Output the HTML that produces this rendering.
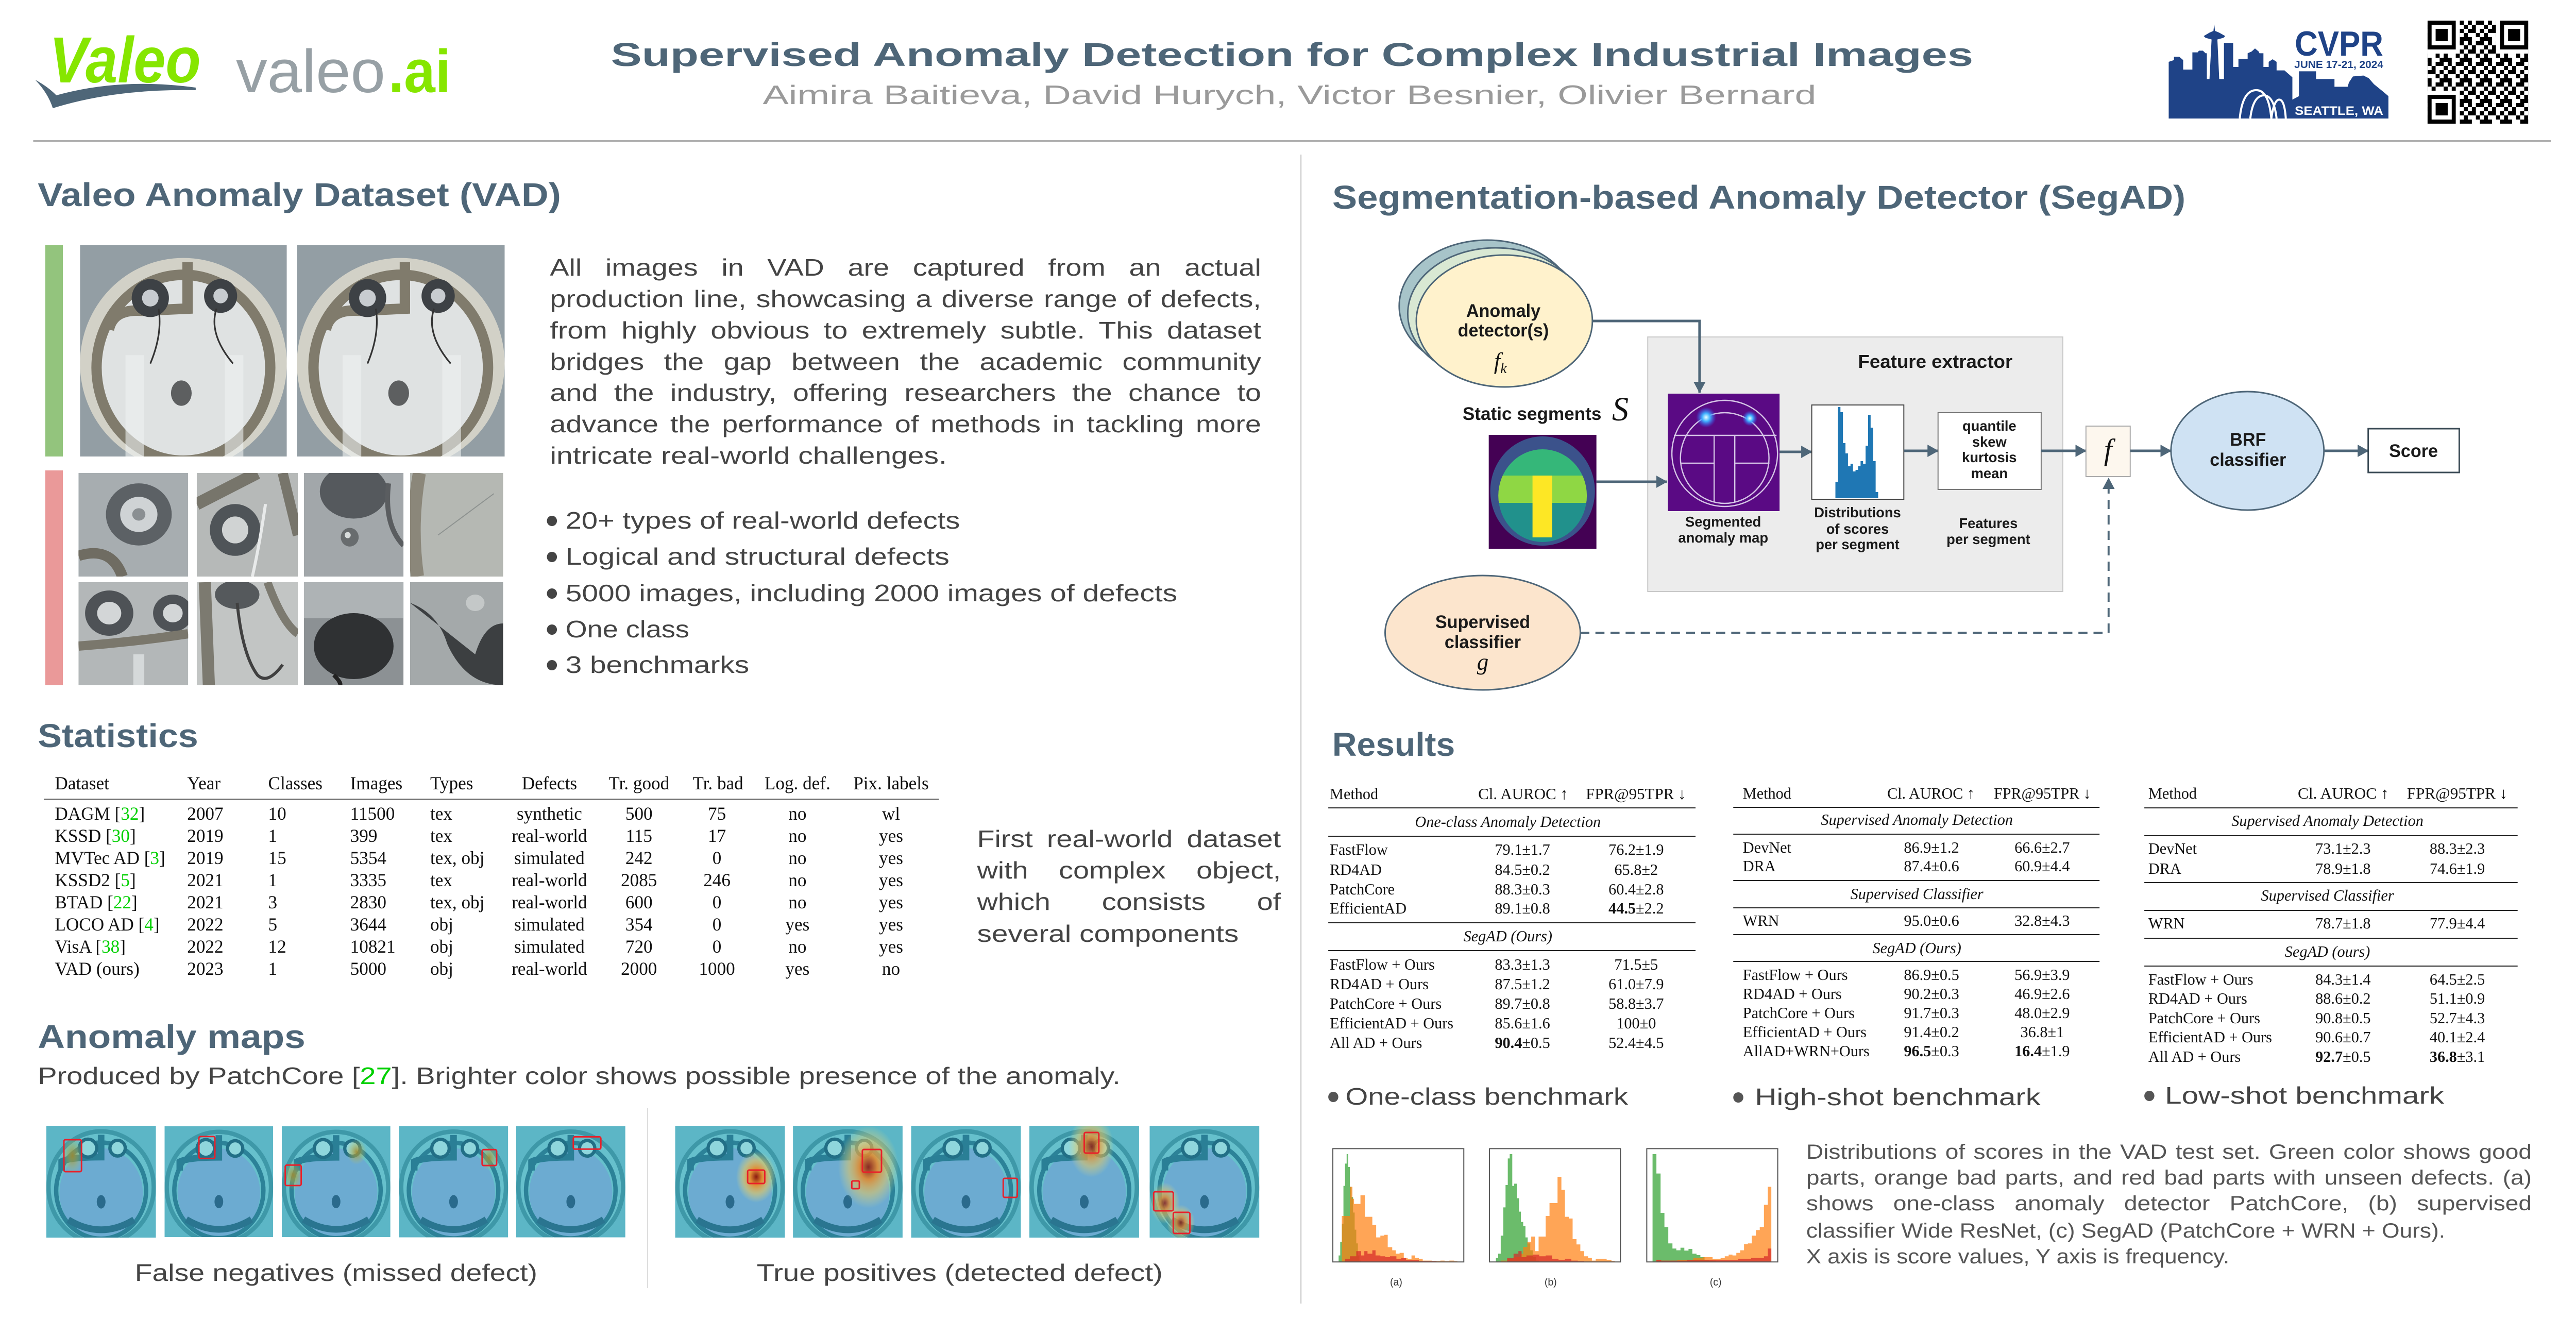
<!DOCTYPE html>
<html><head><meta charset="utf-8">
<style>
html,body{margin:0;padding:0;background:#fff;width:100%;height:100%;overflow:hidden;}
svg.main{display:block;width:100vw;height:100vh;}
.h{font-family:"Liberation Sans",sans-serif;font-weight:bold;fill:#4e6678;font-size:64px;}
.b{font-family:"Liberation Sans",sans-serif;fill:#444;font-size:46px;}
.s{font-family:"Liberation Serif",serif;fill:#111;font-size:36px;}
.t{font-family:"Liberation Serif",serif;fill:#111;font-size:31px;}
.ti{font-family:"Liberation Serif",serif;fill:#111;font-size:31px;font-style:italic;}
.d{font-family:"Liberation Sans",sans-serif;font-weight:bold;fill:#1a1a1a;}
.g{fill:#00d000;}
.j{font-family:"Liberation Sans",sans-serif;font-size:46px;line-height:46px;color:#444;text-align:justify;text-align-last:justify;margin:0;padding:0;overflow:hidden;height:56px;}
.j2{font-family:"Liberation Sans",sans-serif;font-size:40px;line-height:40px;color:#555;text-align:justify;text-align-last:justify;margin:0;padding:0;overflow:hidden;height:50px;}
</style></head>
<body>
<svg class="main" viewBox="0 0 5120 2560" preserveAspectRatio="none" xmlns="http://www.w3.org/2000/svg">
<defs>
 <marker id="ah" markerWidth="22" markerHeight="24" viewBox="0 0 22 24" refX="21" refY="12" orient="auto" markerUnits="userSpaceOnUse"><path d="M0,0 L22,12 L0,24 Z" fill="#4e6678"/></marker>
 <symbol id="part" viewBox="0 0 100 100" preserveAspectRatio="none">
  <rect width="100" height="100" fill="#939ea4"/>
  <ellipse cx="50" cy="56" rx="50" ry="50" fill="#d2d1c7"/>
  <ellipse cx="50" cy="58" rx="42" ry="44" fill="#dfe2e2" stroke="#807b6c" stroke-width="5"/>
  <path d="M14,40 Q16,30 30,31 L52,30 L52,8" stroke="#807b6c" stroke-width="5" fill="none"/>
  <circle cx="34" cy="25" r="9" fill="#3d4145"/><circle cx="34" cy="25" r="4" fill="#c8ccd0"/>
  <circle cx="68" cy="24" r="8" fill="#3d4145"/><circle cx="68" cy="24" r="3.5" fill="#c8ccd0"/>
  <ellipse cx="49" cy="70" rx="5" ry="6" fill="#5d5f60"/>
  <rect x="22" y="52" width="9" height="48" fill="#eef1f2" opacity=".6"/>
  <rect x="70" y="52" width="9" height="48" fill="#eef1f2" opacity=".6"/>
  <path d="M38,30 Q40,42 34,56" stroke="#333" stroke-width=".8" fill="none"/>
  <path d="M66,30 Q62,42 74,56" stroke="#333" stroke-width=".8" fill="none"/>
 </symbol>
 <symbol id="am" viewBox="0 0 100 100" preserveAspectRatio="none">
  <rect width="100" height="100" fill="#5cb6c6"/>
  <ellipse cx="50" cy="55" rx="48" ry="50" fill="#66c0cc" stroke="#3e98a8" stroke-width="4"/>
  <ellipse cx="50" cy="60" rx="38" ry="40" fill="#7393d8" opacity=".45"/>
  <ellipse cx="50" cy="58" rx="41" ry="43" fill="none" stroke="#2c8298" stroke-width="4"/>
  <path d="M14,40 L14,32 Q22,28 50,28 L50,8" stroke="#2a7f96" stroke-width="6" fill="none"/>
  <circle cx="38" cy="20" r="8" fill="#8fd6dc" stroke="#226f86" stroke-width="3"/>
  <circle cx="65" cy="20" r="7" fill="#8fd6dc" stroke="#226f86" stroke-width="3"/>
  <ellipse cx="50" cy="68" rx="4" ry="6" fill="#2a6a8c"/>
  <path d="M20,84 Q50,102 80,84" stroke="#2a7590" stroke-width="6" fill="none"/>
 </symbol>
 <radialGradient id="gy"><stop offset="0" stop-color="#a08a30" stop-opacity=".9"/><stop offset="1" stop-color="#c8c850" stop-opacity="0"/></radialGradient>
 <radialGradient id="go"><stop offset="0" stop-color="#8a1a10"/><stop offset=".3" stop-color="#e08a30"/><stop offset=".65" stop-color="#e8c860" stop-opacity=".6"/><stop offset="1" stop-color="#e8e080" stop-opacity="0"/></radialGradient>
 <radialGradient id="blob"><stop offset="0" stop-color="#e8ffff"/><stop offset=".4" stop-color="#40b0ff"/><stop offset="1" stop-color="#3060ff" stop-opacity="0"/></radialGradient>
 <clipPath id="inner"><ellipse cx="3066" cy="962" rx="88" ry="90"/></clipPath>
 <pattern id="qrp" x="4825" y="40" width="40" height="40" patternUnits="userSpaceOnUse">
  <rect x="0" y="0" width="8" height="8"/><rect x="16" y="0" width="16" height="8"/>
  <rect x="8" y="8" width="8" height="8"/><rect x="32" y="8" width="8" height="8"/>
  <rect x="0" y="16" width="16" height="8"/><rect x="24" y="16" width="8" height="8"/>
  <rect x="16" y="24" width="8" height="8"/><rect x="32" y="24" width="8" height="8"/>
  <rect x="0" y="32" width="8" height="8"/><rect x="24" y="32" width="16" height="8"/>
 </pattern>
</defs>

<!-- HEADER -->
<text x="98" y="160" font-family="Liberation Sans" font-weight="bold" font-style="italic" font-size="126" fill="#86e600" textLength="301" lengthAdjust="spacingAndGlyphs">Valeo</text>
<path d="M70,155 Q95,168 112,185 Q240,150 389,170 L389,175 Q230,172 105,210 Q95,180 70,155 Z" fill="#4e6678"/>
<text x="469" y="179" font-family="Liberation Sans" font-size="118" fill="#97a0a5" textLength="297" lengthAdjust="spacingAndGlyphs">valeo</text>
<text x="772" y="179" font-family="Liberation Sans" font-weight="bold" font-size="118" fill="#86e600" textLength="124" lengthAdjust="spacingAndGlyphs">.ai</text>

<text x="1214" y="128" class="h" font-size="84" textLength="2708" lengthAdjust="spacingAndGlyphs">Supervised Anomaly Detection for Complex Industrial Images</text>
<text x="1516" y="202" font-family="Liberation Sans" font-size="52" fill="#9a9a9a" textLength="2094" lengthAdjust="spacingAndGlyphs">Aimira Baitieva, David Hurych, Victor Besnier, Olivier Bernard</text>

<!-- CVPR logo -->
<g transform="translate(4300,20) scale(0.523,0.3333)">
 <path d="M20,630 L20,300 L40,290 L40,270 L60,270 L75,290 L75,345 L110,345 L110,245 L130,245 L135,235 L150,235 L160,250 L165,250 L165,400 L175,400 L183,170 L160,160 L153,150 L175,130 L190,120 L193,80 L196,120 L212,130 L235,150 L228,160 L205,170 L212,400 L230,400 L230,190 L265,190 L265,330 L285,330 L285,283 L320,283 L320,250 L335,240 L348,222 L362,240 L365,250 L380,250 L380,330 L400,330 L400,300 L415,285 L430,300 L430,350 L460,350 L490,390 L490,520 L515,500 L515,355 L580,355 L580,400 L650,400 L650,445 L700,445 L705,420 L720,385 L760,380 L780,395 L800,430 L840,480 L855,500 L855,630 Z" fill="#1f4387"/>
 <path d="M290,630 Q300,470 350,465 Q400,460 410,630 M330,630 Q340,500 380,495 Q420,495 430,630 M410,630 Q420,520 440,520 Q460,520 465,630" stroke="#fff" stroke-width="4" fill="none" vector-effect="non-scaling-stroke"/>
</g>
<text x="4561" y="108" font-family="Liberation Sans" font-weight="bold" font-size="68" fill="#1f4387" textLength="176" lengthAdjust="spacingAndGlyphs">CVPR</text>
<text x="4560" y="132" font-family="Liberation Sans" font-weight="bold" font-size="20" fill="#1f4387" textLength="177" lengthAdjust="spacingAndGlyphs">JUNE 17-21, 2024</text>
<text x="4561" y="223" font-family="Liberation Sans" font-weight="bold" font-size="24" fill="#fff" textLength="176" lengthAdjust="spacingAndGlyphs">SEATTLE, WA</text>

<!-- QR -->
<rect x="4825" y="40" width="200" height="200" fill="url(#qrp)"/>
<g>
 <rect x="4825" y="40" width="64" height="64" fill="#fff"/><rect x="4961" y="40" width="64" height="64" fill="#fff"/><rect x="4825" y="176" width="64" height="64" fill="#fff"/>
 <rect x="4825" y="40" width="56" height="56"/><rect x="4833" y="48" width="40" height="40" fill="#fff"/><rect x="4841" y="56" width="24" height="24"/>
 <rect x="4969" y="40" width="56" height="56"/><rect x="4977" y="48" width="40" height="40" fill="#fff"/><rect x="4985" y="56" width="24" height="24"/>
 <rect x="4825" y="184" width="56" height="56"/><rect x="4833" y="192" width="40" height="40" fill="#fff"/><rect x="4841" y="200" width="24" height="24"/>
</g>

<rect x="66" y="272" width="5004" height="4" fill="#b0b0b0"/>
<rect x="2584" y="300" width="3" height="2230" fill="#d4d4d4"/>

<!-- LEFT: VAD -->
<text x="75" y="400" class="h" textLength="1040" lengthAdjust="spacingAndGlyphs">Valeo Anomaly Dataset (VAD)</text>
<rect x="90" y="476" width="35" height="410" fill="#93c47d"/>
<rect x="90" y="913" width="35" height="417" fill="#ea9999"/>
<use href="#part" x="159" y="476" width="411" height="410"/>
<use href="#part" x="590" y="476" width="413" height="410"/>

<svg x="156" y="918" width="218" height="201" viewBox="0 0 100 100" preserveAspectRatio="none"><rect width="100" height="100" fill="#a7adb0"/><circle cx="55" cy="40" r="30" fill="#5c6165"/><circle cx="55" cy="40" r="17" fill="#cfd3d5"/><circle cx="55" cy="40" r="6" fill="#8a8f92"/><path d="M0,80 Q30,70 40,100" stroke="#6f6c62" stroke-width="10" fill="none"/></svg>
<svg x="391" y="918" width="201" height="201" viewBox="0 0 100 100" preserveAspectRatio="none"><rect width="100" height="100" fill="#b6b9b8"/><path d="M0,30 Q40,10 60,0" stroke="#77756b" stroke-width="12" fill="none"/><circle cx="38" cy="55" r="25" fill="#4f5458"/><circle cx="38" cy="55" r="13" fill="#d0d3d3"/><path d="M68,30 Q62,70 55,100" stroke="#e8eaea" stroke-width="3" fill="none"/><path d="M85,0 L100,60" stroke="#77756b" stroke-width="10"/></svg>
<svg x="604" y="918" width="198" height="201" viewBox="0 0 100 100" preserveAspectRatio="none"><rect width="100" height="100" fill="#a2a7aa"/><ellipse cx="50" cy="18" rx="34" ry="26" fill="#55595d"/><circle cx="46" cy="62" r="9" fill="#686c6e"/><circle cx="44" cy="60" r="3" fill="#d8dcdc"/><path d="M85,10 Q80,50 100,70" stroke="#5a5d60" stroke-width="5" fill="none"/></svg>
<svg x="815" y="918" width="185" height="201" viewBox="0 0 100 100" preserveAspectRatio="none"><rect width="100" height="100" fill="#b5b8b3"/><path d="M10,0 Q0,50 8,100" stroke="#8b877a" stroke-width="14" fill="none"/><path d="M30,60 L90,20" stroke="#8d9290" stroke-width="1" fill="none"/></svg>
<svg x="156" y="1130" width="218" height="200" viewBox="0 0 100 100" preserveAspectRatio="none"><rect width="100" height="100" fill="#b3b7b8"/><circle cx="28" cy="30" r="22" fill="#4e5256"/><circle cx="28" cy="30" r="11" fill="#d3d6d7"/><circle cx="86" cy="30" r="18" fill="#4e5256"/><circle cx="86" cy="30" r="9" fill="#d3d6d7"/><path d="M0,62 Q50,58 100,50" stroke="#7a776c" stroke-width="9" fill="none"/><rect x="50" y="70" width="10" height="30" fill="#e4e7e8" opacity=".7"/></svg>
<svg x="391" y="1130" width="201" height="200" viewBox="0 0 100 100" preserveAspectRatio="none"><rect width="100" height="100" fill="#c2c5c4"/><path d="M8,0 L12,100" stroke="#7c7a70" stroke-width="12"/><ellipse cx="40" cy="12" rx="22" ry="14" fill="#55595c"/><path d="M40,20 Q45,70 60,90 Q70,100 85,80" stroke="#404040" stroke-width="3" fill="none"/><path d="M70,0 Q85,40 100,50" stroke="#7c7a70" stroke-width="8" fill="none"/></svg>
<svg x="604" y="1130" width="198" height="200" viewBox="0 0 100 100" preserveAspectRatio="none"><rect width="100" height="100" fill="#8c9194"/><rect y="0" width="100" height="35" fill="#aeb3b5"/><ellipse cx="50" cy="62" rx="40" ry="32" fill="#2f3133"/><path d="M30,90 Q40,100 35,100" stroke="#222" stroke-width="4"/></svg>
<svg x="815" y="1130" width="185" height="200" viewBox="0 0 100 100" preserveAspectRatio="none"><rect width="100" height="100" fill="#a4a9aa"/><path d="M0,20 Q30,30 40,60 Q60,100 100,100 L100,40 Q80,40 70,70 Z" fill="#3c3f41"/><ellipse cx="70" cy="20" rx="10" ry="8" fill="#c4c8c8"/></svg>

<g transform="translate(1093,0) scale(1.24,1) translate(-1093,0)">
<foreignObject x="1093" y="496" width="1140" height="56"><div xmlns="http://www.w3.org/1999/xhtml" class="j">All images in VAD are captured from an actual</div></foreignObject>
<foreignObject x="1093" y="557" width="1140" height="56"><div xmlns="http://www.w3.org/1999/xhtml" class="j">production line, showcasing a diverse range of defects,</div></foreignObject>
<foreignObject x="1093" y="618" width="1140" height="56"><div xmlns="http://www.w3.org/1999/xhtml" class="j">from highly obvious to extremely subtle. This dataset</div></foreignObject>
<foreignObject x="1093" y="679" width="1140" height="56"><div xmlns="http://www.w3.org/1999/xhtml" class="j">bridges the gap between the academic community</div></foreignObject>
<foreignObject x="1093" y="739" width="1140" height="56"><div xmlns="http://www.w3.org/1999/xhtml" class="j">and the industry, offering researchers the chance to</div></foreignObject>
<foreignObject x="1093" y="800" width="1140" height="56"><div xmlns="http://www.w3.org/1999/xhtml" class="j">advance the performance of methods in tackling more</div></foreignObject>
</g>
<text x="1093" y="900" class="b" textLength="789" lengthAdjust="spacingAndGlyphs">intricate real-world challenges.</text>

<g fill="#444">
<circle cx="1097" cy="1011" r="10"/><circle cx="1097" cy="1081" r="10"/><circle cx="1097" cy="1152" r="10"/><circle cx="1097" cy="1222" r="10"/><circle cx="1097" cy="1291" r="10"/>
</g>
<text x="1124" y="1026" class="b" textLength="784" lengthAdjust="spacingAndGlyphs">20+ types of real-world defects</text>
<text x="1124" y="1096" class="b" textLength="763" lengthAdjust="spacingAndGlyphs">Logical and structural defects</text>
<text x="1124" y="1167" class="b" textLength="1216" lengthAdjust="spacingAndGlyphs">5000 images, including 2000 images of defects</text>
<text x="1124" y="1237" class="b" textLength="246" lengthAdjust="spacingAndGlyphs">One class</text>
<text x="1124" y="1306" class="b" textLength="365" lengthAdjust="spacingAndGlyphs">3 benchmarks</text>

<!-- Statistics -->
<text x="75" y="1450" class="h" textLength="319" lengthAdjust="spacingAndGlyphs">Statistics</text>
<g class="s">
<text x="109" y="1532" class="s">Dataset</text><text x="372" y="1532" class="s">Year</text><text x="533" y="1532" class="s">Classes</text><text x="696" y="1532" class="s">Images</text><text x="855" y="1532" class="s">Types</text>
<text x="1092" y="1532" class="s" text-anchor="middle">Defects</text><text x="1270" y="1532" class="s" text-anchor="middle">Tr. good</text><text x="1427" y="1532" class="s" text-anchor="middle">Tr. bad</text><text x="1585" y="1532" class="s" text-anchor="middle">Log. def.</text><text x="1771" y="1532" class="s" text-anchor="middle">Pix. labels</text>
</g>
<rect x="87" y="1550" width="1779" height="3" fill="#777"/>
<g>
<text x="109" y="1591" class="s">DAGM [<tspan class="g">32</tspan>]</text><text x="372" y="1591" class="s">2007</text><text x="533" y="1591" class="s">10</text><text x="696" y="1591" class="s">11500</text><text x="855" y="1591" class="s">tex</text><text x="1092" y="1591" class="s" text-anchor="middle">synthetic</text><text x="1270" y="1591" class="s" text-anchor="middle">500</text><text x="1425" y="1591" class="s" text-anchor="middle">75</text><text x="1585" y="1591" class="s" text-anchor="middle">no</text><text x="1771" y="1591" class="s" text-anchor="middle">wl</text>
<text x="109" y="1634" class="s">KSSD [<tspan class="g">30</tspan>]</text><text x="372" y="1634" class="s">2019</text><text x="533" y="1634" class="s">1</text><text x="696" y="1634" class="s">399</text><text x="855" y="1634" class="s">tex</text><text x="1092" y="1634" class="s" text-anchor="middle">real-world</text><text x="1270" y="1634" class="s" text-anchor="middle">115</text><text x="1425" y="1634" class="s" text-anchor="middle">17</text><text x="1585" y="1634" class="s" text-anchor="middle">no</text><text x="1771" y="1634" class="s" text-anchor="middle">yes</text>
<text x="109" y="1677" class="s">MVTec AD [<tspan class="g">3</tspan>]</text><text x="372" y="1677" class="s">2019</text><text x="533" y="1677" class="s">15</text><text x="696" y="1677" class="s">5354</text><text x="855" y="1677" class="s">tex, obj</text><text x="1092" y="1677" class="s" text-anchor="middle">simulated</text><text x="1270" y="1677" class="s" text-anchor="middle">242</text><text x="1425" y="1677" class="s" text-anchor="middle">0</text><text x="1585" y="1677" class="s" text-anchor="middle">no</text><text x="1771" y="1677" class="s" text-anchor="middle">yes</text>
<text x="109" y="1720" class="s">KSSD2 [<tspan class="g">5</tspan>]</text><text x="372" y="1720" class="s">2021</text><text x="533" y="1720" class="s">1</text><text x="696" y="1720" class="s">3335</text><text x="855" y="1720" class="s">tex</text><text x="1092" y="1720" class="s" text-anchor="middle">real-world</text><text x="1270" y="1720" class="s" text-anchor="middle">2085</text><text x="1425" y="1720" class="s" text-anchor="middle">246</text><text x="1585" y="1720" class="s" text-anchor="middle">no</text><text x="1771" y="1720" class="s" text-anchor="middle">yes</text>
<text x="109" y="1763" class="s">BTAD [<tspan class="g">22</tspan>]</text><text x="372" y="1763" class="s">2021</text><text x="533" y="1763" class="s">3</text><text x="696" y="1763" class="s">2830</text><text x="855" y="1763" class="s">tex, obj</text><text x="1092" y="1763" class="s" text-anchor="middle">real-world</text><text x="1270" y="1763" class="s" text-anchor="middle">600</text><text x="1425" y="1763" class="s" text-anchor="middle">0</text><text x="1585" y="1763" class="s" text-anchor="middle">no</text><text x="1771" y="1763" class="s" text-anchor="middle">yes</text>
<text x="109" y="1806" class="s">LOCO AD [<tspan class="g">4</tspan>]</text><text x="372" y="1806" class="s">2022</text><text x="533" y="1806" class="s">5</text><text x="696" y="1806" class="s">3644</text><text x="855" y="1806" class="s">obj</text><text x="1092" y="1806" class="s" text-anchor="middle">simulated</text><text x="1270" y="1806" class="s" text-anchor="middle">354</text><text x="1425" y="1806" class="s" text-anchor="middle">0</text><text x="1585" y="1806" class="s" text-anchor="middle">yes</text><text x="1771" y="1806" class="s" text-anchor="middle">yes</text>
<text x="109" y="1849" class="s">VisA [<tspan class="g">38</tspan>]</text><text x="372" y="1849" class="s">2022</text><text x="533" y="1849" class="s">12</text><text x="696" y="1849" class="s">10821</text><text x="855" y="1849" class="s">obj</text><text x="1092" y="1849" class="s" text-anchor="middle">simulated</text><text x="1270" y="1849" class="s" text-anchor="middle">720</text><text x="1425" y="1849" class="s" text-anchor="middle">0</text><text x="1585" y="1849" class="s" text-anchor="middle">no</text><text x="1771" y="1849" class="s" text-anchor="middle">yes</text>
<text x="109" y="1892" class="s">VAD (ours)</text><text x="372" y="1892" class="s">2023</text><text x="533" y="1892" class="s">1</text><text x="696" y="1892" class="s">5000</text><text x="855" y="1892" class="s">obj</text><text x="1092" y="1892" class="s" text-anchor="middle">real-world</text><text x="1270" y="1892" class="s" text-anchor="middle">2000</text><text x="1425" y="1892" class="s" text-anchor="middle">1000</text><text x="1585" y="1892" class="s" text-anchor="middle">yes</text><text x="1771" y="1892" class="s" text-anchor="middle">no</text>
</g>
<g transform="translate(1942,0) scale(1.24,1) translate(-1942,0)">
<foreignObject x="1942" y="1605" width="487" height="56"><div xmlns="http://www.w3.org/1999/xhtml" class="j">First real-world dataset</div></foreignObject>
<foreignObject x="1942" y="1666" width="487" height="56"><div xmlns="http://www.w3.org/1999/xhtml" class="j">with complex object,</div></foreignObject>
<foreignObject x="1942" y="1727" width="487" height="56"><div xmlns="http://www.w3.org/1999/xhtml" class="j">which consists of</div></foreignObject>
</g>
<text x="1942" y="1828" class="b" textLength="520" lengthAdjust="spacingAndGlyphs">several components</text>

<!-- Anomaly maps -->
<text x="75" y="2034" class="h" textLength="532" lengthAdjust="spacingAndGlyphs">Anomaly maps</text>
<text x="75" y="2104" class="b" fill="#555" textLength="2152" lengthAdjust="spacingAndGlyphs">Produced by PatchCore [<tspan class="g">27</tspan>]. Brighter color shows possible presence of the anomaly.</text>

<svg x="92" y="2185" width="218" height="217" viewBox="0 0 218 217"><use href="#am" width="218" height="217"/><ellipse cx="52" cy="58" rx="20" ry="36" fill="url(#gy)"/><rect x="35" y="27" width="35" height="62" rx="3" fill="none" stroke="#e8202a" stroke-width="3"/></svg>
<svg x="327" y="2185" width="216" height="217" viewBox="0 0 218 217"><use href="#am" width="218" height="217"/><rect x="69" y="20" width="32" height="43" rx="3" fill="none" stroke="#e8202a" stroke-width="3"/></svg>
<svg x="560" y="2185" width="216" height="217" viewBox="0 0 218 217"><use href="#am" width="218" height="217"/><ellipse cx="23" cy="96" rx="20" ry="28" fill="url(#gy)"/><ellipse cx="150" cy="50" rx="20" ry="25" fill="url(#gy)"/><rect x="7" y="76" width="32" height="40" rx="3" fill="none" stroke="#e8202a" stroke-width="3"/></svg>
<svg x="793" y="2185" width="217" height="217" viewBox="0 0 218 217"><use href="#am" width="218" height="217"/><ellipse cx="180" cy="62" rx="18" ry="24" fill="url(#gy)"/><rect x="166" y="46" width="29" height="31" rx="3" fill="none" stroke="#e8202a" stroke-width="3"/></svg>
<svg x="1026" y="2185" width="217" height="217" viewBox="0 0 218 217"><use href="#am" width="218" height="217"/><rect x="114" y="21" width="55" height="24" rx="3" fill="none" stroke="#e8202a" stroke-width="3"/></svg>

<svg x="1342" y="2185" width="218" height="217" viewBox="0 0 218 217"><use href="#am" width="218" height="217"/><ellipse cx="161" cy="99" rx="40" ry="50" fill="url(#go)"/><rect x="144" y="86" width="34" height="26" rx="3" fill="none" stroke="#e8202a" stroke-width="3"/></svg>
<svg x="1576" y="2185" width="218" height="217" viewBox="0 0 218 217"><use href="#am" width="218" height="217"/><ellipse cx="150" cy="80" rx="60" ry="80" fill="url(#go)" opacity=".9"/><rect x="138" y="46" width="38" height="44" rx="3" fill="none" stroke="#e8202a" stroke-width="3"/><rect x="117" y="107" width="15" height="15" rx="2" fill="none" stroke="#e8202a" stroke-width="3"/></svg>
<svg x="1811" y="2185" width="218" height="217" viewBox="0 0 218 217"><use href="#am" width="218" height="217"/><rect x="183" y="102" width="28" height="37" rx="3" fill="none" stroke="#e8202a" stroke-width="3"/></svg>
<svg x="2046" y="2185" width="218" height="217" viewBox="0 0 218 217"><use href="#am" width="218" height="217"/><ellipse cx="123" cy="40" rx="45" ry="60" fill="url(#go)" opacity=".85"/><rect x="109" y="13" width="29" height="40" rx="3" fill="none" stroke="#e8202a" stroke-width="3"/></svg>
<svg x="2284" y="2185" width="220" height="217" viewBox="0 0 218 217"><use href="#am" width="218" height="217"/><ellipse cx="30" cy="150" rx="30" ry="40" fill="url(#go)" opacity=".8"/><ellipse cx="62" cy="188" rx="28" ry="35" fill="url(#go)" opacity=".8"/><rect x="8" y="128" width="39" height="37" rx="3" fill="none" stroke="#e8202a" stroke-width="3"/><rect x="47" y="168" width="33" height="41" rx="3" fill="none" stroke="#e8202a" stroke-width="3"/></svg>

<rect x="1286" y="2150" width="2" height="350" fill="#dcdcdc"/>
<text x="268" y="2486" class="b" textLength="800" lengthAdjust="spacingAndGlyphs">False negatives (missed defect)</text>
<text x="1504" y="2486" class="b" textLength="807" lengthAdjust="spacingAndGlyphs">True positives (detected defect)</text>

<!-- RIGHT: SegAD -->
<text x="2648" y="405" class="h" textLength="1696" lengthAdjust="spacingAndGlyphs">Segmentation-based Anomaly Detector (SegAD)</text>

<rect x="3275" y="654" width="825" height="494" fill="#ececec" stroke="#c8c8c8" stroke-width="2"/>
<ellipse cx="2956" cy="594" rx="175" ry="128" fill="#a7c4c9" stroke="#4e6678" stroke-width="3"/>
<ellipse cx="2973" cy="609" rx="175" ry="128" fill="#d9e8d3" stroke="#4e6678" stroke-width="3"/>
<ellipse cx="2990" cy="623" rx="175" ry="128" fill="#fff2cc" stroke="#4e6678" stroke-width="3"/>
<text x="2988" y="615" class="d" font-size="35" text-anchor="middle">Anomaly</text>
<text x="2988" y="653" class="d" font-size="35" text-anchor="middle">detector(s)</text>
<text x="2982" y="716" font-family="Liberation Serif" font-style="italic" font-size="46" fill="#111" text-anchor="middle">f<tspan font-size="28" dy="8">k</tspan></text>

<polyline points="3165,623 3378,623 3378,762" fill="none" stroke="#4e6678" stroke-width="5" marker-end="url(#ah)"/>
<text x="3693" y="714" class="d" font-size="36" textLength="307" lengthAdjust="spacingAndGlyphs">Feature extractor</text>

<text x="2907" y="815" class="d" font-size="35" textLength="276" lengthAdjust="spacingAndGlyphs">Static segments</text>
<text x="3204" y="816" font-family="Liberation Serif" font-style="italic" font-size="66" fill="#111">S</text>

<rect x="2959" y="844" width="214" height="221" fill="#440154"/>
<ellipse cx="3066" cy="953" rx="104" ry="106" fill="#3b528b"/>
<g clip-path="url(#inner)">
 <rect x="2970" y="860" width="200" height="63" fill="#35b779"/>
 <rect x="2970" y="923" width="200" height="53" fill="#8fd744"/>
 <rect x="2970" y="976" width="200" height="90" fill="#21918c"/>
 <rect x="3046" y="923" width="39" height="120" fill="#fde725"/>
</g>
<line x1="3173" y1="935" x2="3313" y2="935" stroke="#4e6678" stroke-width="5" marker-end="url(#ah)"/>

<rect x="3315" y="764" width="222" height="228" fill="#5a0a84"/>
<g fill="none" stroke="#d5c4e6" stroke-width="2.5">
 <ellipse cx="3428" cy="880" rx="105" ry="103"/>
 <ellipse cx="3428" cy="889" rx="88" ry="88"/>
 <line x1="3327" y1="845" x2="3531" y2="845"/>
 <line x1="3407" y1="845" x2="3407" y2="975"/><line x1="3448" y1="845" x2="3448" y2="975"/>
 <line x1="3340" y1="899" x2="3407" y2="899"/><line x1="3448" y1="899" x2="3517" y2="899"/>
</g>
<circle cx="3391" cy="810" r="20" fill="url(#blob)"/>
<circle cx="3478" cy="812" r="15" fill="url(#blob)"/>
<line x1="3537" y1="877" x2="3601" y2="877" stroke="#4e6678" stroke-width="5" marker-end="url(#ah)"/>

<rect x="3601" y="786" width="183" height="183" fill="#fff" stroke="#444" stroke-width="2"/>
<path d="M3648,967V935H3653V790H3658V800H3663V860H3668V880H3673V905H3678V900H3683V915H3688V912H3693V905H3698V895H3703V900H3708V865H3713V805H3718V830H3723V895H3728V955H3733V967Z" fill="#1f77b4"/>
<line x1="3784" y1="875" x2="3852" y2="875" stroke="#4e6678" stroke-width="5" marker-end="url(#ah)"/>

<rect x="3852" y="801" width="205" height="149" fill="#fff" stroke="#777" stroke-width="2"/>
<g class="d" font-size="28" text-anchor="middle">
 <text x="3954" y="836">quantile</text><text x="3954" y="867">skew</text><text x="3954" y="897">kurtosis</text><text x="3954" y="928">mean</text>
 <text x="3425" y="1022">Segmented</text><text x="3425" y="1053">anomaly map</text>
 <text x="3692" y="1004">Distributions</text><text x="3692" y="1036">of scores</text><text x="3692" y="1066">per segment</text>
 <text x="3952" y="1025">Features</text><text x="3952" y="1056">per segment</text>
</g>
<line x1="4057" y1="875" x2="4146" y2="875" stroke="#4e6678" stroke-width="5" marker-end="url(#ah)"/>
<rect x="4146" y="827" width="88" height="98" fill="#fdf7ee" stroke="#aaa" stroke-width="2"/>
<text x="4190" y="892" font-family="Liberation Serif" font-style="italic" font-size="58" fill="#111" text-anchor="middle">f</text>
<line x1="4234" y1="875" x2="4315" y2="875" stroke="#4e6678" stroke-width="5" marker-end="url(#ah)"/>
<ellipse cx="4467" cy="875" rx="152" ry="115" fill="#cfe2f3" stroke="#4e6678" stroke-width="3"/>
<text x="4468" y="865" class="d" font-size="35" text-anchor="middle">BRF</text>
<text x="4468" y="904" class="d" font-size="35" text-anchor="middle">classifier</text>
<line x1="4619" y1="875" x2="4707" y2="875" stroke="#4e6678" stroke-width="5" marker-end="url(#ah)"/>
<rect x="4707" y="832" width="181" height="85" fill="#fff" stroke="#3a4a55" stroke-width="3"/>
<text x="4797" y="887" class="d" font-size="35" text-anchor="middle">Score</text>

<ellipse cx="2947" cy="1228" rx="194" ry="111" fill="#fce5cd" stroke="#4e6678" stroke-width="3"/>
<text x="2947" y="1219" class="d" font-size="35" text-anchor="middle">Supervised</text>
<text x="2947" y="1258" class="d" font-size="35" text-anchor="middle">classifier</text>
<text x="2947" y="1300" font-family="Liberation Serif" font-style="italic" font-size="46" fill="#111" text-anchor="middle">g</text>
<polyline points="3141,1228 4191,1228 4191,928" fill="none" stroke="#4e6678" stroke-width="4" stroke-dasharray="18,12" marker-end="url(#ah)"/>

<!-- Results -->
<text x="2648" y="1467" class="h" textLength="244" lengthAdjust="spacingAndGlyphs">Results</text>

<!-- Table 1 -->
<g>
<text x="2643" y="1551" class="t">Method</text>
<text x="2938" y="1551" class="t" textLength="179" lengthAdjust="spacingAndGlyphs">Cl. AUROC ↑</text>
<text x="3152" y="1551" class="t" textLength="199" lengthAdjust="spacingAndGlyphs">FPR@95TPR ↓</text>
<g fill="#222"><rect x="2640" y="1567" width="730" height="2"/><rect x="2640" y="1622" width="730" height="2"/><rect x="2640" y="1790" width="730" height="2"/><rect x="2640" y="1844" width="730" height="2"/></g>
<text x="2997" y="1605" class="ti" text-anchor="middle">One-class Anomaly Detection</text>
<text x="2643" y="1659" class="t">FastFlow</text><text x="3026" y="1659" class="t" text-anchor="middle">79.1±1.7</text><text x="3252" y="1659" class="t" text-anchor="middle">76.2±1.9</text>
<text x="2643" y="1698" class="t">RD4AD</text><text x="3026" y="1698" class="t" text-anchor="middle">84.5±0.2</text><text x="3252" y="1698" class="t" text-anchor="middle">65.8±2</text>
<text x="2643" y="1736" class="t">PatchCore</text><text x="3026" y="1736" class="t" text-anchor="middle">88.3±0.3</text><text x="3252" y="1736" class="t" text-anchor="middle">60.4±2.8</text>
<text x="2643" y="1773" class="t">EfficientAD</text><text x="3026" y="1773" class="t" text-anchor="middle">89.1±0.8</text><text x="3252" y="1773" class="t" text-anchor="middle"><tspan font-weight="bold">44.5</tspan>±2.2</text>
<text x="2997" y="1827" class="ti" text-anchor="middle">SegAD (Ours)</text>
<text x="2643" y="1882" class="t">FastFlow + Ours</text><text x="3026" y="1882" class="t" text-anchor="middle">83.3±1.3</text><text x="3252" y="1882" class="t" text-anchor="middle">71.5±5</text>
<text x="2643" y="1920" class="t">RD4AD + Ours</text><text x="3026" y="1920" class="t" text-anchor="middle">87.5±1.2</text><text x="3252" y="1920" class="t" text-anchor="middle">61.0±7.9</text>
<text x="2643" y="1958" class="t">PatchCore + Ours</text><text x="3026" y="1958" class="t" text-anchor="middle">89.7±0.8</text><text x="3252" y="1958" class="t" text-anchor="middle">58.8±3.7</text>
<text x="2643" y="1996" class="t">EfficientAD + Ours</text><text x="3026" y="1996" class="t" text-anchor="middle">85.6±1.6</text><text x="3252" y="1996" class="t" text-anchor="middle">100±0</text>
<text x="2643" y="2034" class="t">All AD + Ours</text><text x="3026" y="2034" class="t" text-anchor="middle"><tspan font-weight="bold">90.4</tspan>±0.5</text><text x="3252" y="2034" class="t" text-anchor="middle">52.4±4.5</text>
</g>

<!-- Table 2 -->
<g>
<text x="3464" y="1550" class="t">Method</text>
<text x="3751" y="1550" class="t" textLength="174" lengthAdjust="spacingAndGlyphs">Cl. AUROC ↑</text>
<text x="3963" y="1550" class="t" textLength="193" lengthAdjust="spacingAndGlyphs">FPR@95TPR ↓</text>
<g fill="#222"><rect x="3445" y="1566" width="728" height="2"/><rect x="3445" y="1618" width="728" height="2"/><rect x="3445" y="1708" width="728" height="2"/><rect x="3445" y="1761" width="728" height="2"/><rect x="3445" y="1813" width="728" height="2"/><rect x="3445" y="1865" width="728" height="2"/></g>
<text x="3810" y="1601" class="ti" text-anchor="middle">Supervised Anomaly Detection</text>
<text x="3464" y="1655" class="t">DevNet</text><text x="3839" y="1655" class="t" text-anchor="middle">86.9±1.2</text><text x="4059" y="1655" class="t" text-anchor="middle">66.6±2.7</text>
<text x="3464" y="1691" class="t">DRA</text><text x="3839" y="1691" class="t" text-anchor="middle">87.4±0.6</text><text x="4059" y="1691" class="t" text-anchor="middle">60.9±4.4</text>
<text x="3810" y="1745" class="ti" text-anchor="middle">Supervised Classifier</text>
<text x="3464" y="1797" class="t">WRN</text><text x="3839" y="1797" class="t" text-anchor="middle">95.0±0.6</text><text x="4059" y="1797" class="t" text-anchor="middle">32.8±4.3</text>
<text x="3810" y="1850" class="ti" text-anchor="middle">SegAD (Ours)</text>
<text x="3464" y="1902" class="t">FastFlow + Ours</text><text x="3839" y="1902" class="t" text-anchor="middle">86.9±0.5</text><text x="4059" y="1902" class="t" text-anchor="middle">56.9±3.9</text>
<text x="3464" y="1939" class="t">RD4AD + Ours</text><text x="3839" y="1939" class="t" text-anchor="middle">90.2±0.3</text><text x="4059" y="1939" class="t" text-anchor="middle">46.9±2.6</text>
<text x="3464" y="1976" class="t">PatchCore + Ours</text><text x="3839" y="1976" class="t" text-anchor="middle">91.7±0.3</text><text x="4059" y="1976" class="t" text-anchor="middle">48.0±2.9</text>
<text x="3464" y="2013" class="t">EfficientAD + Ours</text><text x="3839" y="2013" class="t" text-anchor="middle">91.4±0.2</text><text x="4059" y="2013" class="t" text-anchor="middle">36.8±1</text>
<text x="3464" y="2050" class="t">AllAD+WRN+Ours</text><text x="3839" y="2050" class="t" text-anchor="middle"><tspan font-weight="bold">96.5</tspan>±0.3</text><text x="4059" y="2050" class="t" text-anchor="middle"><tspan font-weight="bold">16.4</tspan>±1.9</text>
</g>

<!-- Table 3 -->
<g>
<text x="4270" y="1550" class="t">Method</text>
<text x="4567" y="1550" class="t" textLength="181" lengthAdjust="spacingAndGlyphs">Cl. AUROC ↑</text>
<text x="4784" y="1550" class="t" textLength="200" lengthAdjust="spacingAndGlyphs">FPR@95TPR ↓</text>
<g fill="#222"><rect x="4262" y="1567" width="742" height="2"/><rect x="4262" y="1621" width="742" height="2"/><rect x="4262" y="1712" width="742" height="2"/><rect x="4262" y="1766" width="742" height="2"/><rect x="4262" y="1820" width="742" height="2"/><rect x="4262" y="1874" width="742" height="2"/></g>
<text x="4626" y="1603" class="ti" text-anchor="middle">Supervised Anomaly Detection</text>
<text x="4270" y="1657" class="t">DevNet</text><text x="4657" y="1657" class="t" text-anchor="middle">73.1±2.3</text><text x="4884" y="1657" class="t" text-anchor="middle">88.3±2.3</text>
<text x="4270" y="1696" class="t">DRA</text><text x="4657" y="1696" class="t" text-anchor="middle">78.9±1.8</text><text x="4884" y="1696" class="t" text-anchor="middle">74.6±1.9</text>
<text x="4626" y="1748" class="ti" text-anchor="middle">Supervised Classifier</text>
<text x="4270" y="1802" class="t">WRN</text><text x="4657" y="1802" class="t" text-anchor="middle">78.7±1.8</text><text x="4884" y="1802" class="t" text-anchor="middle">77.9±4.4</text>
<text x="4626" y="1857" class="ti" text-anchor="middle">SegAD (ours)</text>
<text x="4270" y="1911" class="t">FastFlow + Ours</text><text x="4657" y="1911" class="t" text-anchor="middle">84.3±1.4</text><text x="4884" y="1911" class="t" text-anchor="middle">64.5±2.5</text>
<text x="4270" y="1948" class="t">RD4AD + Ours</text><text x="4657" y="1948" class="t" text-anchor="middle">88.6±0.2</text><text x="4884" y="1948" class="t" text-anchor="middle">51.1±0.9</text>
<text x="4270" y="1986" class="t">PatchCore + Ours</text><text x="4657" y="1986" class="t" text-anchor="middle">90.8±0.5</text><text x="4884" y="1986" class="t" text-anchor="middle">52.7±4.3</text>
<text x="4270" y="2023" class="t">EfficientAD + Ours</text><text x="4657" y="2023" class="t" text-anchor="middle">90.6±0.7</text><text x="4884" y="2023" class="t" text-anchor="middle">40.1±2.4</text>
<text x="4270" y="2061" class="t">All AD + Ours</text><text x="4657" y="2061" class="t" text-anchor="middle"><tspan font-weight="bold">92.7</tspan>±0.5</text><text x="4884" y="2061" class="t" text-anchor="middle"><tspan font-weight="bold">36.8</tspan>±3.1</text>
</g>

<g fill="#555"><circle cx="2650" cy="2129" r="10"/><circle cx="3455" cy="2130" r="10"/><circle cx="4272" cy="2127" r="10"/></g>
<text x="2674" y="2144" class="b" fill="#555" textLength="562" lengthAdjust="spacingAndGlyphs">One-class benchmark</text>
<text x="3488" y="2145" class="b" fill="#555" textLength="568" lengthAdjust="spacingAndGlyphs">High-shot benchmark</text>
<text x="4303" y="2142" class="b" fill="#555" textLength="555" lengthAdjust="spacingAndGlyphs">Low-shot benchmark</text>

<!-- Histograms -->
<g transform="translate(2600,2180) scale(0.638,0.3333)">
 <g opacity="0.7" fill="#2ca02c">
  <path d="M95,808V770H100V690H105V585H110V365H115V235H120V180H125V255H130V370H135V430H140V520H145V620H150V700H155V770H160V800H165V808Z"/>
  <path d="M585,808V785H592V760H600V655H608V490H615V360H622V205H628V180H636V365H642V352H650V437H657V515H663V575H670V600H677V665H684V700H692V740H700V780H710V800H720V808Z"/>
  <path d="M1073,808V180H1085V293H1098V522H1110V605H1122V700H1135V730H1147V740H1160V725H1172V742H1185V732H1197V760H1210V768H1222V780H1235V795H1250V800H1270V808Z"/>
 </g>
 <g opacity="0.7" fill="#ff7f0e">
  <path d="M105,808V540H130V370H138V440H143V470H163V420H177V545H200V593H212V665H225V655H237V650H248V722H262V740H273V760H285V755H298V785H310V790H322V770H333V785H345V790H357V800H385V802H412V800H425V804H440V800H455V804H465V808Z"/>
  <path d="M600,808V800H620V790H640V780H660V760H670V720H683V690H695V660H707V745H718V660H740V540H752V465H777V312H789V388H800V545H812V555H824V675H836V706H848V745H860V775H872V785H884V800H896V790H930V795H945V802H955V808Z"/>
  <path d="M1085,808V795H1100V800H1150V795H1200V785H1230V780H1260V790H1285V785H1298V775H1310V765H1322V770H1334V755H1346V740H1358V705H1370V700H1382V655H1395V622H1407V605H1420V475H1432V370H1443V808Z"/>
 </g>
 <g opacity="0.7" fill="#d62728">
  <path d="M115,808V790H130V775H150V745H165V770H175V745H185V760H200V740H210V770H225V775H240V780H255V775H275V790H290V785H305V795H325V798H345V803H400V808Z"/>
  <path d="M620,808V785H640V760H655V745H665V780H680V770H700V765H720V775H740V770H760V790H780V795H800V790H820V800H840V804H860V808Z"/>
  <path d="M1085,808V795H1100V800H1180V795H1260V798H1340V790H1380V785H1420V775H1432V730H1443V808Z"/>
 </g>
 <g fill="none" stroke="#555" stroke-width="2">
  <rect x="77" y="148" width="408" height="660" vector-effect="non-scaling-stroke"/>
  <rect x="565" y="148" width="408" height="660" vector-effect="non-scaling-stroke"/>
  <rect x="1055" y="148" width="408" height="660" vector-effect="non-scaling-stroke"/>
 </g>
</g>
<g font-family="Liberation Sans" font-size="20" fill="#333" text-anchor="middle">
 <text x="2775" y="2495">(a)</text><text x="3082" y="2495">(b)</text><text x="3410" y="2495">(c)</text>
</g>
<g transform="translate(3590,0) scale(1.18,1) translate(-3590,0)">
<foreignObject x="3590" y="2216" width="1222" height="50"><div xmlns="http://www.w3.org/1999/xhtml" class="j2">Distributions of scores in the VAD test set. Green color shows good</div></foreignObject>
<foreignObject x="3590" y="2266" width="1222" height="50"><div xmlns="http://www.w3.org/1999/xhtml" class="j2">parts, orange bad parts, and red bad parts with unseen defects. (a)</div></foreignObject>
<foreignObject x="3590" y="2316" width="1222" height="50"><div xmlns="http://www.w3.org/1999/xhtml" class="j2">shows one-class anomaly detector PatchCore, (b) supervised</div></foreignObject>
</g>
<g font-family="Liberation Sans" font-size="40" fill="#555">
 <text x="3590" y="2402" textLength="1270" lengthAdjust="spacingAndGlyphs">classifier Wide ResNet, (c) SegAD (PatchCore + WRN + Ours).</text>
 <text x="3590" y="2452" textLength="841" lengthAdjust="spacingAndGlyphs">X axis is score values, Y axis is frequency.</text>
</g>
</svg>
</body></html>
